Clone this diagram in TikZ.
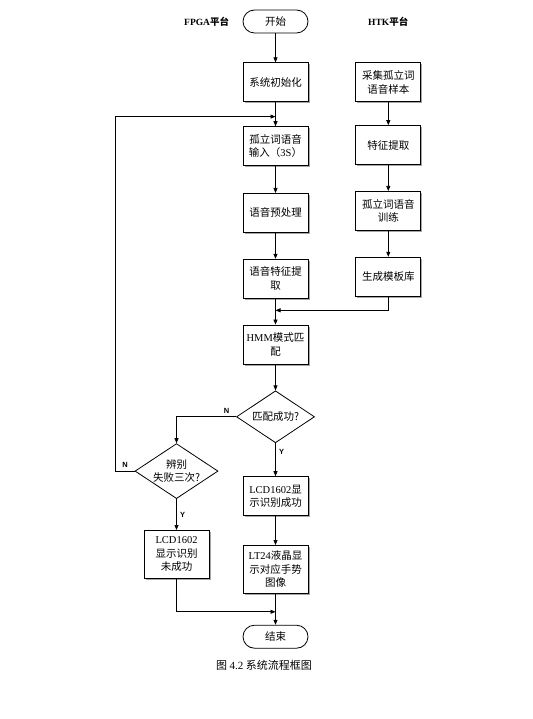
\documentclass[tikz,border=0pt]{standalone}
\usepackage{fontspec}
\setmainfont{Liberation Serif}
\newfontfamily\cjk{Noto Sans CJK SC}
\newfontfamily\labfont{Liberation Sans}
\usetikzlibrary{positioning,arrows.meta,calc,shapes.geometric,shadows}
\newcommand\lat[1]{{\rmfamily #1}}

\begin{document}
\begin{tikzpicture}[
    x=1pt, y=-1pt,
    font=\cjk\fontsize{10.5}{13.5}\selectfont,
    box/.style={draw, line width=0.8pt, fill=white, minimum width=65pt,
      minimum height=39pt, align=center, inner sep=2pt,
      drop shadow={shadow xshift=1.6pt, shadow yshift=-1.6pt, fill=black!35, opacity=1}},
    term/.style={draw, line width=0.8pt, fill=white, rounded corners=11.5pt,
      minimum width=65pt, minimum height=23pt},
    dec/.style={draw, diamond, line width=0.8pt, inner sep=0pt},
    yn/.style={font=\labfont\bfseries\fontsize{7.5}{9}\selectfont},
    flow/.style={->, >={Triangle[length=5pt, width=4pt]}, line width=0.7pt},
  ]
  \useasboundingbox (0,0) rectangle (532,719);

  % FPGA column
  \node[term] (start) at (275.5,21.5) {开始};
  \node[left=10pt of start, font=\bfseries\fontsize{9.5}{11}\selectfont]
    (fpga) {FPGA{\cjk 平台}};
  \node[box, below=29pt of start] (init) {系统初始化};
  \node[box, below=24pt of init] (input) {孤立词语音\\输入（\lat{3S}）};
  \node[box, below=27pt of input] (pre) {语音预处理};
  \node[box, below=26pt of pre] (feat) {语音特征提\\取};
  \node[box, below=26pt of feat] (hmm) {\lat{HMM}模式匹\\配};
  \node[dec, minimum width=78pt, minimum height=52pt, below=26pt of hmm,
        label={center:匹配成功?}] (match) {};
  \node[box, below=33pt of match] (succ) {\lat{LCD1602}显\\示识别成功};
  \node[box, minimum height=48pt, below=29pt of succ]
    (lt24) {\lat{LT24}液晶显\\示对应手势\\图像};
  \node[term, below=31pt of lt24] (stop) {结束};

  % failure branch
  \node[dec, minimum width=83pt, minimum height=55pt, below=0pt of match.south,
        xshift=-99pt, label={[align=center]center:辨别\\失败三次?}] (fail) {};
  \node[box, minimum height=48pt, below=31pt of fail]
    (failbox) {\lat{LCD1602}\\显示识别\\未成功};

  % HTK column
  \node[box, right=47pt of init] (collect) {采集孤立词\\语音样本};
  \node[font=\bfseries\fontsize{9.5}{11}\selectfont]
    (htk) at (collect |- start) {HTK{\cjk 平台}};
  \node[box, below=23pt of collect] (hfeat) {特征提取};
  \node[box, below=26pt of hfeat] (train) {孤立词语音\\训练};
  \node[box, below=26pt of train] (model) {生成模板库};

  \node (cap) at (264,665) {\fontsize{11}{13}\selectfont 图 \lat{4.2} 系统流程框图};

  \coordinate (loopin) at ($(init.south)!0.6!(input.north)$);
  \coordinate (joinh) at ($(feat.south)!0.45!(hmm.north)$);
  \coordinate (joine) at ($(lt24.south)!0.58!(stop.north)$);

  \draw[flow] (start) -- (init);
  \draw[flow] (init) -- (input);
  \draw[flow] (input) -- (pre);
  \draw[flow] (pre) -- (feat);
  \draw[flow] (feat) -- (hmm);
  \draw[flow] (hmm) -- (match);
  \draw[flow] (match.south) -- node[yn, right, pos=0.25] {Y} (succ.north);
  \draw[flow] (succ) -- (lt24);
  \draw[flow] (lt24) -- (stop);
  \draw[flow] (collect) -- (hfeat);
  \draw[flow] (hfeat) -- (train);
  \draw[flow] (train) -- (model);
  \draw[flow] (model.south) |- (joinh);
  \draw[flow] (match.west) -| node[yn, above, pos=0.08] {N} (fail.north);
  \draw[flow] (fail.south) -- node[yn, right] {Y} (failbox.north);
  \draw[flow] (fail.west) -- node[yn, above] {N} ++(-19pt,0) |- (loopin);
  \draw[flow] (failbox.south) |- (joine);
\end{tikzpicture}
\end{document}
